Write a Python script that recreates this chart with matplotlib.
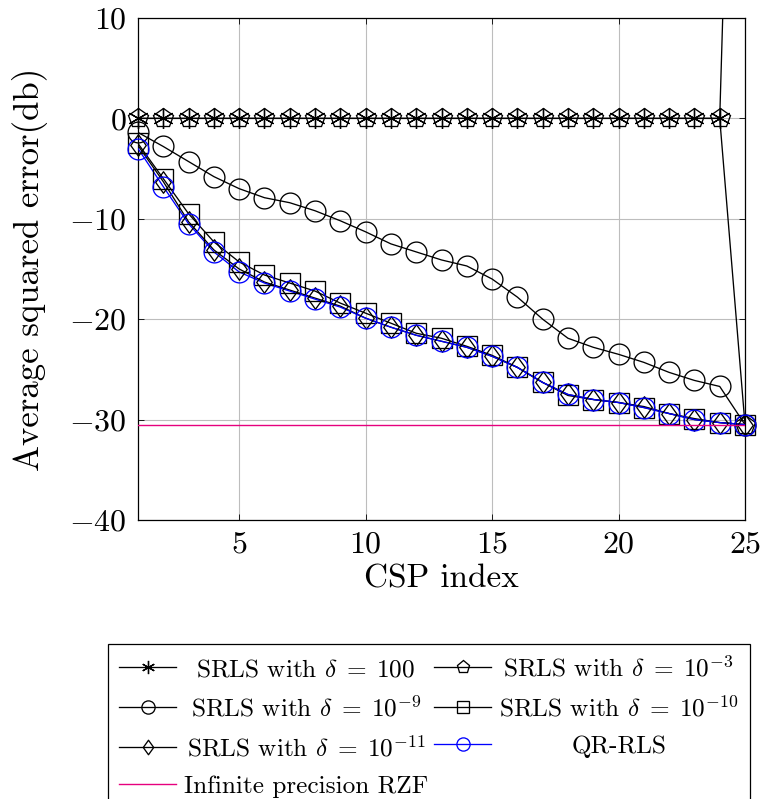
import matplotlib
matplotlib.use("Agg")
import numpy as np
import matplotlib.pyplot as plt
from matplotlib.lines import Line2D
from matplotlib.path import Path

plt.rcParams['font.family'] = 'serif'
plt.rcParams['font.serif'] = ['cmr10', 'DejaVu Serif']
plt.rcParams['mathtext.fontset'] = 'cm'
plt.rcParams['axes.formatter.use_mathtext'] = True

csp = list(range(1, 26))

srls_100 = [0.0] * 24 + [85.0]
srls_1e3 = [0.0] * 24 + [-30.5]
srls_1e9 = [-1.4, -2.8, -4.3, -5.8, -7.0, -7.9, -8.4, -9.2, -10.2, -11.3, -12.5, -13.3,
            -14.1, -14.7, -16.0, -17.8, -20.0, -21.9, -22.8, -23.5, -24.3, -25.3, -26.1,
            -26.7, -30.5]
srls_1e10 = [-2.5, -6.0, -9.5, -12.3, -14.3, -15.6, -16.4, -17.2, -18.4, -19.4, -20.4,
             -21.4, -21.9, -22.7, -23.6, -24.8, -26.3, -27.6, -28.0, -28.3, -28.8, -29.4,
             -29.9, -30.3, -30.5]
srls_1e11 = [-2.7, -6.3, -10.3, -13.1, -15.0, -16.3, -17.1, -17.9, -18.7, -19.9, -20.8,
             -21.6, -22.2, -22.8, -23.7, -24.8, -26.3, -27.5, -28.0, -28.3, -28.7, -29.4,
             -30.0, -30.3, -30.5]
qr_rls = [-3.0, -6.8, -10.5, -13.3, -15.3, -16.4, -17.2, -18.0, -18.8, -19.9, -20.8,
          -21.6, -22.2, -22.8, -23.7, -24.8, -26.3, -27.5, -28.0, -28.3, -28.8, -29.4,
          -30.0, -30.3, -30.5]
rzf_level = -30.5

labels = [r'SRLS with $\delta\;=\;100$', r'SRLS with $\delta\;=\;10^{-3}$',
          r'SRLS with $\delta\;=\;10^{-9}$', r'SRLS with $\delta\;=\;10^{-10}$',
          r'SRLS with $\delta\;=\;10^{-11}$', 'QR-RLS', 'Infinite precision RZF']

diamond = Path([(0, 1), (0.72, 0), (0, -1), (-0.72, 0), (0, 1)],
               [Path.MOVETO, Path.LINETO, Path.LINETO, Path.LINETO, Path.CLOSEPOLY])
star = (6, 2, 0)

ylo, yhi = -40, 10

fig = plt.figure(figsize=(7.62, 7.99), dpi=100)
ax = fig.add_axes([0.1811, 0.3492, 0.7966, 0.6283])

lw = 0.95
mew = 0.95
series = [
    (srls_100, 'black', star, 15.0),
    (srls_1e3, 'black', 'p', 15.0),
    (srls_1e9, 'black', 'o', 15.0),
    (srls_1e10, 'black', 's', 14.6),
    (srls_1e11, 'black', diamond, 15.5),
    (qr_rls, '#0000ff', 'o', 15.0),
]
for vals, col, mk, ms in series:
    ax.plot(csp, vals, color=col, lw=lw, zorder=3)
    mvals = np.ma.masked_outside(np.array(vals, dtype=float), ylo, yhi)
    ax.plot(csp, mvals, ls='none', marker=mk, ms=ms, mew=mew, mfc='none',
            mec=col, clip_on=False, zorder=4)
ax.axhline(rzf_level, color='#e6007e', lw=1.0, zorder=5)

ax.set_xlim(1, 25)
ax.set_ylim(ylo, yhi)
ax.set_xticks([5, 10, 15, 20, 25])
ax.set_yticks([-40, -30, -20, -10, 0, 10])
ax.grid(True, color='#bdbdbd', lw=0.8)
ax.set_axisbelow(True)
ax.tick_params(direction='in', length=4, width=0.6, top=True, right=True,
               labelsize=23, pad=8)
for s in ax.spines.values():
    s.set_linewidth(0.9)
    s.set_zorder(2.5)

ax.set_xlabel('CSP index', fontsize=24, labelpad=4)
ax.set_ylabel('Average squared error(db)', fontsize=25)
ax.yaxis.set_label_coords(-0.148, 0.5)

lms = 9.5
proxies = {
    0: Line2D([], [], color='black', lw=lw, marker=star, ms=lms, mew=mew, mfc='none'),
    1: Line2D([], [], color='black', lw=lw, marker='p', ms=lms, mew=mew, mfc='none'),
    2: Line2D([], [], color='black', lw=lw, marker='o', ms=lms, mew=mew, mfc='none'),
    3: Line2D([], [], color='black', lw=lw, marker='s', ms=lms * 0.95, mew=mew, mfc='none'),
    4: Line2D([], [], color='black', lw=lw, marker=diamond, ms=lms * 1.1, mew=mew, mfc='none'),
    5: Line2D([], [], color='#0000ff', lw=lw, marker='o', ms=lms, mew=mew, mfc='none'),
    6: Line2D([], [], color='#e6007e', lw=1.0),
}
order = [0, 2, 4, 6, 1, 3, 5]
leg = fig.legend([proxies[i] for i in order], [labels[i] for i in order], ncol=2,
                 loc='upper left', bbox_to_anchor=(108 / 762, 1 - 644 / 799),
                 fontsize=18.2, frameon=True, fancybox=False, edgecolor='black',
                 framealpha=1, handlelength=2.25, handletextpad=0.3,
                 columnspacing=0.25, labelspacing=0.56, borderpad=0.45,
                 borderaxespad=0)
leg.get_frame().set_linewidth(0.9)

# centre legend texts within their columns (like a centred table cell)
fig.canvas.draw()
r = fig.canvas.get_renderer()
texts = leg.get_texts()
for col in (texts[:4], texts[4:]):
    ws = [t.get_window_extent(r).width for t in col]
    m = max(ws)
    for t, w in zip(col, ws):
        t.set_x((m - w) / 2)

fig.savefig('out.png', dpi=100)
